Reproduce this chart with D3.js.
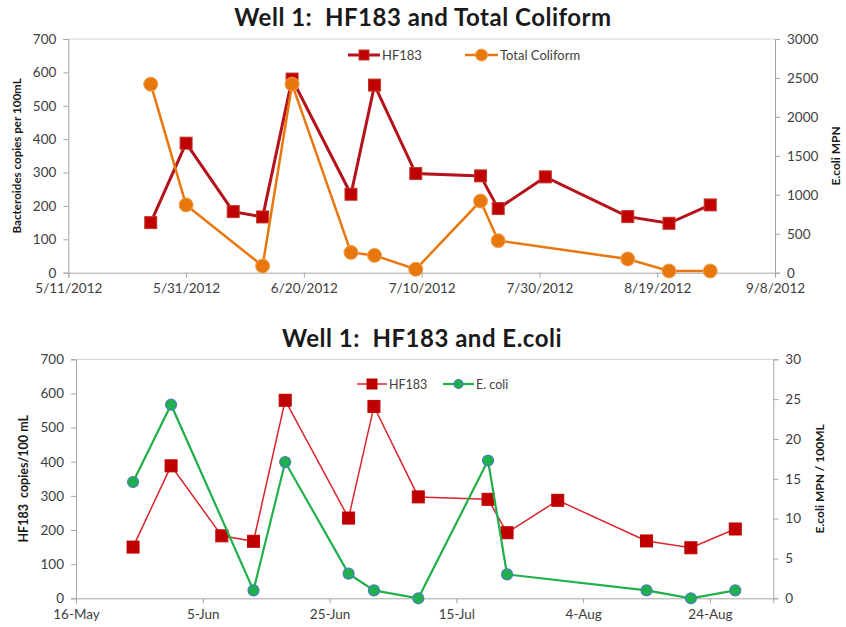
<!DOCTYPE html>
<html>
<head>
<meta charset="utf-8">
<script src="https://cdn.jsdelivr.net/npm/d3@7"></script>
<style>
  html, body { margin: 0; padding: 0; background: #fff; }
  svg { display: block; font-family: Lato, "Open Sans", sans-serif; }
  text { white-space: pre; }
</style>
</head>
<body>
<svg id="chart" width="846" height="627"></svg>
<script>
// Sampling dates for the HF183 marker
const hfDates = ["2012-05-25","2012-05-31","2012-06-08","2012-06-13","2012-06-18","2012-06-28",
  "2012-07-02","2012-07-09","2012-07-20","2012-07-23","2012-07-31","2012-08-14","2012-08-21","2012-08-28"];
// HF183 copies per 100 mL
const hf183 = [150, 388, 183, 167, 580, 235, 562, 297, 290, 192, 287, 168, 148, 203];

// Sampling dates for the coliform / E. coli tests
const mpnDates = ["2012-05-25","2012-05-31","2012-06-13","2012-06-18","2012-06-28","2012-07-02",
  "2012-07-09","2012-07-20","2012-07-23","2012-08-14","2012-08-21","2012-08-28"];
// Total coliform MPN
const totalColiform = [2420, 870, 86, 2420, 260, 222, 44, 920, 411, 176, 22, 22];
// E. coli MPN / 100 mL
const eColi = [14.6, 24.3, 1, 17.1, 3.1, 1, 0, 17.3, 3, 1, 0, 1];

// Axis ticks
const leftTicks = [0, 100, 200, 300, 400, 500, 600, 700];
const coliformTicks = [0, 500, 1000, 1500, 2000, 2500, 3000];
const eColiTicks = [0, 5, 10, 15, 20, 25, 30];
const topDateTicks = ["2012-05-11","2012-05-31","2012-06-20","2012-07-10","2012-07-30","2012-08-19","2012-09-08"];
const bottomDateTicks = ["2012-05-16","2012-06-05","2012-06-25","2012-07-15","2012-08-04","2012-08-24"];

const parse = d3.timeParse("%Y-%m-%d");
const svg = d3.select("#chart");

const axisColor = "#a6a6a6";
const labelColor = "#404040";

function drawPanel(cfg) {
  const g = svg.append("g");
  const x = d3.scaleTime().domain(cfg.xDomain.map(parse)).range([cfg.left, cfg.right]);
  const yL = d3.scaleLinear().domain([0, 700]).range([cfg.bottom, cfg.top]);
  const yR = d3.scaleLinear().domain(cfg.rightDomain).range([cfg.bottom, cfg.top]);

  // plot frame top edge
  g.append("line").attr("x1", cfg.left).attr("x2", cfg.right)
    .attr("y1", cfg.top).attr("y2", cfg.top)
    .attr("stroke", "#d0d0d0").attr("stroke-width", 1);

  // left axis
  const la = g.append("g").attr("transform", `translate(${cfg.left},0)`)
    .call(d3.axisLeft(yL).tickValues(leftTicks).tickSize(5).tickPadding(7));
  // right axis
  const ra = g.append("g").attr("transform", `translate(${cfg.right},0)`)
    .call(d3.axisRight(yR).tickValues(cfg.rightTicks).tickFormat(d3.format("d"))
      .tickSize(5).tickPadding(7));
  // bottom axis
  const ba = g.append("g").attr("transform", `translate(0,${cfg.bottom})`)
    .call(d3.axisBottom(x).tickValues(cfg.dateTicks.map(parse)).tickFormat(cfg.dateFormat)
      .tickSize(5).tickPadding(6));

  [la, ra, ba].forEach(a => {
    a.select(".domain").attr("stroke", axisColor);
    a.selectAll(".tick line").attr("stroke", axisColor);
    a.selectAll(".tick text").attr("fill", labelColor)
      .style("font-size", "13.5px").style("font-family", "Lato, 'Open Sans', sans-serif");
  });

  // titles
  g.append("text").attr("x", cfg.titleX).attr("y", cfg.titleY)
    .attr("text-anchor", "middle").attr("fill", "#1a1a1a")
    .style("font-size", "24px").style("font-weight", "bold").style("letter-spacing", "0.5px")
    .text(cfg.title);

  const midY = (cfg.top + cfg.bottom) / 2;
  g.append("text")
    .attr("transform", `translate(${cfg.leftTitleX},${midY}) rotate(-90)`)
    .attr("text-anchor", "middle").attr("fill", "#1a1a1a")
    .style("font-size", cfg.leftTitleSize).style("font-weight", "bold")
    .text(cfg.leftTitle);
  g.append("text")
    .attr("transform", `translate(${cfg.rightTitleX},${midY}) rotate(-90)`)
    .attr("text-anchor", "middle").attr("fill", "#1a1a1a")
    .style("font-size", "12px").style("font-weight", "bold")
    .text(cfg.rightTitle);

  // series
  const hfPts = hfDates.map((d, i) => [x(parse(d)), yL(hf183[i])]);
  const s2Pts = mpnDates.map((d, i) => [x(parse(d)), yR(cfg.s2Values[i])]);
  const line = d3.line();

  g.append("path").attr("d", line(hfPts)).attr("fill", "none")
    .attr("stroke", cfg.hfLine).attr("stroke-width", cfg.hfWidth);
  g.append("g").selectAll("rect").data(hfPts).join("rect")
    .attr("x", d => d[0] - cfg.sq / 2).attr("y", d => d[1] - cfg.sq / 2)
    .attr("width", cfg.sq).attr("height", cfg.sq)
    .attr("fill", "#c00000").attr("stroke", cfg.sqStroke).attr("stroke-width", 1);
  g.append("path").attr("d", line(s2Pts)).attr("fill", "none")
    .attr("stroke", cfg.s2Color).attr("stroke-width", cfg.s2Width);
  g.append("g").selectAll("circle").data(s2Pts).join("circle")
    .attr("cx", d => d[0]).attr("cy", d => d[1]).attr("r", cfg.r)
    .attr("fill", cfg.s2Color).attr("stroke", cfg.s2MarkerStroke).attr("stroke-width", cfg.s2MarkerStrokeWidth);

  // legend
  const lg = g.append("g");
  const items = [
    { x1: cfg.legX[0], x2: cfg.legX[1], label: "HF183", kind: "sq" },
    { x1: cfg.legX[2], x2: cfg.legX[3], label: cfg.s2Label, kind: "ci" }
  ];
  items.forEach(it => {
    const cx = (it.x1 + it.x2) / 2;
    lg.append("line").attr("x1", it.x1).attr("x2", it.x2).attr("y1", cfg.legY).attr("y2", cfg.legY)
      .attr("stroke", it.kind === "sq" ? cfg.hfLine : cfg.s2Color)
      .attr("stroke-width", it.kind === "sq" ? cfg.hfWidth : cfg.s2Width);
    if (it.kind === "sq") {
      const s = cfg.sq - 2;
      lg.append("rect").attr("x", cx - s / 2).attr("y", cfg.legY - s / 2).attr("width", s).attr("height", s)
        .attr("fill", "#c00000").attr("stroke", cfg.sqStroke);
    } else {
      lg.append("circle").attr("cx", cx).attr("cy", cfg.legY).attr("r", cfg.r - 1)
        .attr("fill", cfg.s2Color).attr("stroke", cfg.s2MarkerStroke).attr("stroke-width", cfg.s2MarkerStrokeWidth);
    }
    lg.append("text").attr("x", it.x2 + 2).attr("y", cfg.legY + 5)
      .attr("fill", labelColor).style("font-size", cfg.legSize).text(it.label);
  });
}

drawPanel({
  title: "Well 1:  HF183 and Total Coliform", titleX: 423, titleY: 26,
  left: 68.3, right: 775, top: 39, bottom: 272.7,
  xDomain: ["2012-05-11", "2012-09-08"], dateTicks: topDateTicks,
  dateFormat: d3.timeFormat("%-m/%-d/%Y"),
  rightDomain: [0, 3000], rightTicks: coliformTicks,
  leftTitle: "Bacteroides copies per 100mL", leftTitleX: 21, leftTitleSize: "11.6px",
  rightTitle: "E.coli MPN", rightTitleX: 840,
  s2Values: totalColiform, s2Label: "Total Coliform",
  hfLine: "#b5121b", hfWidth: 3, sq: 12, sqStroke: "#c0392b",
  s2Color: "#e8780e", s2Width: 2.5, r: 7, s2MarkerStroke: "#f0a050", s2MarkerStrokeWidth: 1,
  legX: [348, 380, 465, 498], legY: 55, legSize: "13px"
});

drawPanel({
  title: "Well 1:  HF183 and E.coli", titleX: 422, titleY: 347,
  left: 76, right: 773.3, top: 359.3, bottom: 598.3,
  xDomain: ["2012-05-16", "2012-09-03"], dateTicks: bottomDateTicks,
  dateFormat: d3.timeFormat("%-d-%b"),
  rightDomain: [0, 30], rightTicks: eColiTicks,
  leftTitle: "HF183  copies/100 mL", leftTitleX: 28, leftTitleSize: "12.5px",
  rightTitle: "E.coli MPN / 100ML", rightTitleX: 824,
  s2Values: eColi, s2Label: "E. coli",
  hfLine: "#d9262b", hfWidth: 1.5, sq: 12, sqStroke: "#c00000",
  s2Color: "#1fb04a", s2Width: 2.2, r: 5.5, s2MarkerStroke: "#4a7fc0", s2MarkerStrokeWidth: 1.2,
  legX: [357, 387, 443, 474], legY: 384, legSize: "12.5px"
});
</script>
</body>
</html>
